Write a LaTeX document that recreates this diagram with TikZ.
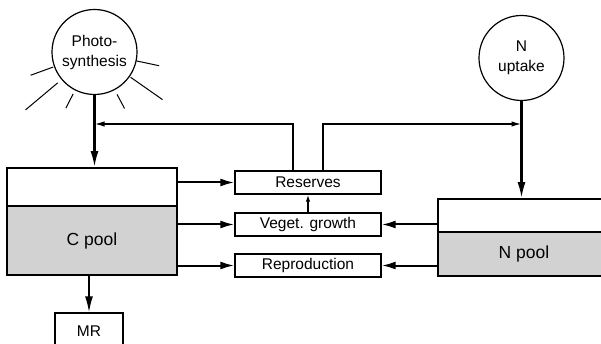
\documentclass[tikz,border=0pt]{standalone}
\usepackage{fontspec}
\setmainfont{Liberation Sans}
\usetikzlibrary{arrows.meta,calc}
\begin{document}
\begin{tikzpicture}[x=1pt,y=-1pt,
  txt/.style={font=\fontsize{15.5}{20}\selectfont},
  circ/.style={circle,draw,line width=1.2pt,minimum size=85pt,inner sep=0pt,align=center,txt},
  bx/.style={draw,line width=1.3pt,inner sep=0pt,txt,minimum width=146pt,minimum height=23pt},
  pool/.style={draw,line width=1.6pt,inner sep=0pt},
  poolfill/.style={pool,fill=gray!35,font=\fontsize{17.5}{20}\selectfont},
  flow/.style={line width=2.3pt,-{Latex[length=16pt,width=8pt]}},
  arr/.style={line width=2pt,-{Latex[length=14pt,width=8pt]}},
  fb/.style={line width=1.6pt,-{Latex[length=10pt,width=5.5pt]}},
  small/.style={line width=1.5pt,-{Latex[length=7pt,width=4.5pt]}},
  ray/.style={line width=1pt}
]
\useasboundingbox (0,0) rectangle (601,344);

% circles
\node[circ] (photo) at (94.5,52) {Photo-\\synthesis};
\node[circ] (nup) at (521.5,58) {N\\uptake};

% rays of the sun
\foreach \a/\ri/\ro in {160/44/68, 140/48/90, 117/47/63, 12/43/66, 35/44/83, 62/48/64}
  \draw[ray] ([shift={(\a:\ri)}]photo.center) -- ([shift={(\a:\ro)}]photo.center);

% C pool
\node[pool,minimum width=170pt,minimum height=38pt] (ctop) at (92,187) {};
\node[poolfill,minimum width=170pt,minimum height=69pt] (cbot) at (92,240.5) {C pool};

% N pool (runs off the right edge)
\node[pool,minimum width=172pt,minimum height=33pt] (ntop) at (524,215.5) {};
\node[poolfill,minimum width=172pt,minimum height=44pt] (nbot) at (524,254) {N pool\hspace{8pt}};

% middle boxes
\node[bx] (res) at (308,182.5) {Reserves};
\node[bx] (veg) at (308,224.5) {Veget. growth};
\node[bx] (rep) at (308,265.5) {Reproduction};

% MR
\node[draw,line width=1.3pt,inner sep=0pt,txt,minimum width=68pt,minimum height=37pt] (mr) at (89,331.5) {MR};

% main flows
\draw[flow] (photo.south) -- (photo.south |- ctop.north);
\draw[flow] (nup.south) -- (nup.south |- ntop.north);
\draw[flow,line width=1.7pt] (cbot.south -| mr.north) -- (mr.north);

% C pool to boxes
\draw[arr] (res.west -| ctop.east) -- (res.west);
\draw[arr] (veg.west -| cbot.east) -- (veg.west);
\draw[arr] (rep.west -| cbot.east) -- (rep.west);

% N pool to boxes
\draw[arr] (veg.east -| ntop.west) -- (veg.east);
\draw[arr] (rep.east -| nbot.west) -- (rep.east);

% growth to reserves
\draw[small] (veg.north) -- (res.south);

% feedback from reserves
\coordinate (fbL) at (94.5,124);
\coordinate (fbR) at (521.5,124);
\draw[fb] ([xshift=-15pt]res.north) |- (fbL);
\draw[fb] ([xshift=15pt]res.north) |- (fbR);
\end{tikzpicture}
\end{document}
